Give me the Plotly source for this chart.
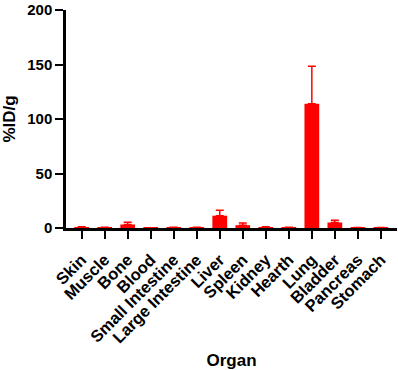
import plotly.graph_objects as go

organs = ["Skin", "Muscle", "Bone", "Blood", "Small Intestine", "Large Intestine",
          "Liver", "Spleen", "Kidney", "Hearth", "Lung", "Bladder", "Pancreas", "Stomach"]
values = [0.8, 0.5, 3.2, 0.1, 0.4, 0.4, 11.3, 2.6, 0.8, 0.5, 114, 5.0, 0.3, 0.3]
errors = [0.4, 0.3, 2.0, 0.1, 0.2, 0.2, 5.0, 2.0, 0.3, 0.3, 34.5, 2.0, 0.2, 0.2]
y_ticks = [0, 50, 100, 150, 200]

FONT = "Arial, Liberation Sans, sans-serif"

fig = go.Figure()
fig.add_trace(go.Bar(
    x=organs, y=values,
    marker=dict(color="#FF0000", line=dict(width=0)),
    width=0.64,
    error_y=dict(type="data", array=errors, symmetric=False, arrayminus=[0]*len(errors),
                 color="#FF0000", thickness=1.5, width=4),
))

fig.update_layout(
    width=398, height=370,
    margin=dict(l=66, r=1, t=10, b=142, autoexpand=False),
    paper_bgcolor="white", plot_bgcolor="white",
    showlegend=False,
    font=dict(family=FONT, color="black"),
    xaxis=dict(
        range=[-0.68, 13.7],
        showline=True, linecolor="black", linewidth=2.5,
        ticks="outside", ticklen=8, tickwidth=2, tickcolor="black",
        tickangle=-45, ticklabelstandoff=5, ticklabeloverflow="allow",
        tickfont=dict(family=FONT, size=16.5, color="black", weight="bold"),
        title=dict(text="<b>Organ</b>", font=dict(family=FONT, size=17, color="black"), standoff=12),
        showgrid=False, zeroline=False,
    ),
    yaxis=dict(
        range=[0, 200],
        tickvals=y_ticks,
        showline=True, linecolor="black", linewidth=2.5,
        ticks="outside", ticklen=8, tickwidth=2, tickcolor="black",
        ticklabeloverflow="allow",
        tickfont=dict(family=FONT, size=15, color="black", weight="bold"),
        title=dict(text="<b>%ID/g</b>", font=dict(family=FONT, size=17, color="black"), standoff=10),
        showgrid=False, zeroline=False,
    ),
)

fig.write_html("out.html",
               config={"displayModeBar": False},
               post_script="document.body.style.margin='0';document.body.style.overflow='hidden';")
